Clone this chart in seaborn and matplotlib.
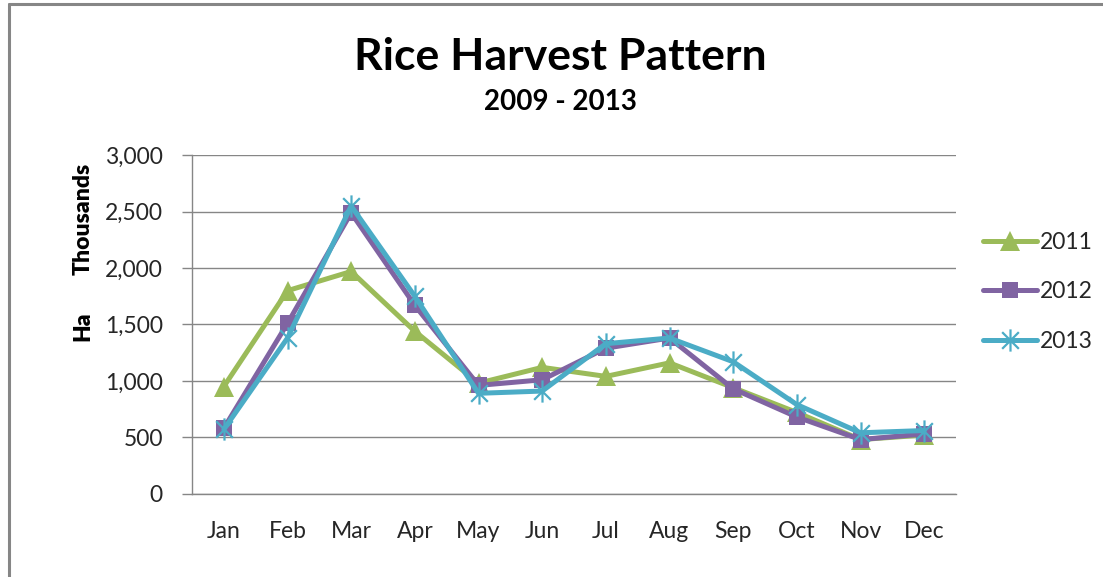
import pandas as pd
import matplotlib.pyplot as plt
import numpy as np
import seaborn as sns
from matplotlib.path import Path
from matplotlib.ticker import StrMethodFormatter, FixedLocator

months = ['Jan', 'Feb', 'Mar', 'Apr', 'May', 'Jun', 'Jul', 'Aug', 'Sep', 'Oct', 'Nov', 'Dec']
ha_2011 = [950, 1800, 1970, 1440, 980, 1120, 1040, 1160, 940, 720, 480, 520]
ha_2012 = [580, 1510, 2490, 1670, 960, 1010, 1290, 1380, 930, 680, 480, 530]
ha_2013 = [570, 1380, 2550, 1750, 890, 910, 1330, 1380, 1170, 790, 540, 560]
years = ['2011', '2012', '2013']
colors = {'2011': '#9BBB59', '2012': '#8064A2', '2013': '#4BACC6'}

df = pd.DataFrame({'Month': months * 3,
                   'Ha': ha_2011 + ha_2012 + ha_2013,
                   'Year': np.repeat(years, len(months))})
df['pos'] = df['Month'].map({m: i for i, m in enumerate(months)})

# excel style asterisk: vertical bar plus an x
star = Path([(0, -1), (0, 1), (-0.75, -0.75), (0.75, 0.75), (-0.75, 0.75), (0.75, -0.75)],
            [Path.MOVETO, Path.LINETO, Path.MOVETO, Path.LINETO, Path.MOVETO, Path.LINETO])
markers = {'2011': dict(marker='^', markersize=14, markeredgecolor=colors['2011'], markeredgewidth=0),
           '2012': dict(marker='s', markersize=11, markeredgecolor=colors['2012'], markeredgewidth=0),
           '2013': dict(marker=star, markersize=16, markeredgecolor=colors['2013'],
                        markerfacecolor='none', markeredgewidth=1.6)}

sns.set_style('white')
plt.rcParams['font.family'] = ['Lato', 'DejaVu Sans']

fig = plt.figure(figsize=(11.03, 5.77), dpi=100)
ax = fig.add_axes([192 / 1103, 1 - 493.7 / 577, (956 - 192) / 1103, (493.7 - 155.3) / 577])

for yr in years:
    d = df[df['Year'] == yr]
    sns.lineplot(x='pos', y='Ha', data=d, ax=ax, color=colors[yr], linewidth=3.6,
                 label=yr, solid_joinstyle='round', **markers[yr])

ax.set_xlim(-0.5, 11.5)
ax.set_ylim(0, 3000)
ax.set_yticks(np.arange(0, 3001, 500))
ax.yaxis.set_major_formatter(StrMethodFormatter('{x:,.0f}'))
ax.set_xticks(range(12))
ax.set_xticklabels(months)
ax.xaxis.set_minor_locator(FixedLocator(np.arange(-0.5, 12, 1)))
ax.tick_params(axis='x', which='major', length=0, pad=20, labelsize=16.5, labelcolor='#262626')
ax.tick_params(axis='x', which='minor', length=6, width=1, color='#868686', direction='out')
ax.tick_params(axis='y', length=7, width=1, color='#868686', direction='out', pad=14,
               labelsize=16.5, labelcolor='#262626', left=True)
ax.grid(axis='y', color='#868686', linewidth=1)
ax.set_axisbelow(True)
for s in ['top', 'right']:
    ax.spines[s].set_visible(False)
for s in ['left', 'bottom']:
    ax.spines[s].set_color('#868686')
    ax.spines[s].set_linewidth(1)
ax.set_xlabel('')
ax.set_ylabel('')

leg = ax.legend(loc='center left', bbox_to_anchor=(972 / 1103, 1 - 292 / 577),
                bbox_transform=fig.transFigure, frameon=False, fontsize=16.5,
                handlelength=2.35, handletextpad=0.1, labelspacing=1.25, borderpad=0)

fig.text(560 / 1103, 1 - 57 / 577, 'Rice Harvest Pattern', ha='center', va='center',
         fontsize=32, fontweight='bold', color='black')
fig.text(560 / 1103, 1 - 102 / 577, '2009 - 2013', ha='center', va='center',
         fontsize=20, fontweight='bold', color='black')
fig.text(83 / 1103, 1 - 219 / 577, 'Thousands', rotation=90, ha='center', va='center',
         fontsize=16.5, fontweight='heavy', color='black')
fig.text(83 / 1103, 1 - 326 / 577, 'Ha', rotation=90, ha='center', va='center',
         fontsize=16.5, fontweight='heavy', color='black')

# chart frame (top and left edges visible in the crop)
fig.add_artist(plt.Line2D([9 / 1103, 9 / 1103], [0, 1 - 4 / 577], transform=fig.transFigure,
                          color='#868686', linewidth=2.2))
fig.add_artist(plt.Line2D([9 / 1103, 1], [1 - 4 / 577, 1 - 4 / 577], transform=fig.transFigure,
                          color='#868686', linewidth=2.2))

fig.savefig('out.png', dpi=100, facecolor='white')
